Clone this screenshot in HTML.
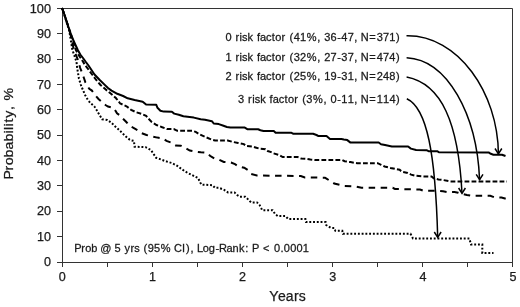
<!DOCTYPE html>
<html><head><meta charset="utf-8"><style>
html,body{margin:0;padding:0;background:#fff;}
body{width:520px;height:307px;overflow:hidden;}
svg{display:block;filter:grayscale(1);font-family:"Liberation Sans", sans-serif;font-size:11.9px;fill:#222;}
text{fill:#1a1a1a;stroke:#1a1a1a;stroke-width:0.25px;}
</style></head><body>
<svg width="520" height="307" viewBox="0 0 520 307">
<rect width="520" height="307" fill="#fff"/>
<path d="M57,8.5 H512.5 V267 M62.5,8 V267 M57,262.5 H513" stroke="#333" stroke-width="1" fill="none"/>
<path d="M57,8.5 H62 M57,33.5 H62 M57,59.5 H62 M57,84.5 H62 M57,109.5 H62 M57,135.5 H62 M57,160.5 H62 M57,185.5 H62 M57,211.5 H62 M57,236.5 H62 M57,262.5 H62" stroke="#333" stroke-width="1" fill="none"/>
<path d="M62.5,262 V267 M107.5,262 V267 M152.5,262 V267 M197.5,262 V267 M242.5,262 V267 M287.5,262 V267 M332.5,262 V267 M377.5,262 V267 M422.5,262 V267 M467.5,262 V267 M512.5,262 V267" stroke="#333" stroke-width="1" fill="none"/>
<text x="51" y="12.80" text-anchor="end" textLength="21.2" lengthAdjust="spacingAndGlyphs">100</text>
<text x="51" y="38.10" text-anchor="end" textLength="14.0" lengthAdjust="spacingAndGlyphs">90</text>
<text x="51" y="63.40" text-anchor="end" textLength="14.0" lengthAdjust="spacingAndGlyphs">80</text>
<text x="51" y="88.70" text-anchor="end" textLength="14.0" lengthAdjust="spacingAndGlyphs">70</text>
<text x="51" y="114.00" text-anchor="end" textLength="14.0" lengthAdjust="spacingAndGlyphs">60</text>
<text x="51" y="139.30" text-anchor="end" textLength="14.0" lengthAdjust="spacingAndGlyphs">50</text>
<text x="51" y="164.60" text-anchor="end" textLength="14.0" lengthAdjust="spacingAndGlyphs">40</text>
<text x="51" y="189.90" text-anchor="end" textLength="14.0" lengthAdjust="spacingAndGlyphs">30</text>
<text x="51" y="215.20" text-anchor="end" textLength="14.0" lengthAdjust="spacingAndGlyphs">20</text>
<text x="51" y="240.50" text-anchor="end" textLength="14.0" lengthAdjust="spacingAndGlyphs">10</text>
<text x="51" y="265.80" text-anchor="end" textLength="7.0" lengthAdjust="spacingAndGlyphs">0</text>
<text x="62.30" y="280.6" text-anchor="middle" textLength="7.0" lengthAdjust="spacingAndGlyphs">0</text>
<text x="152.45" y="280.6" text-anchor="middle" textLength="7.0" lengthAdjust="spacingAndGlyphs">1</text>
<text x="242.60" y="280.6" text-anchor="middle" textLength="7.0" lengthAdjust="spacingAndGlyphs">2</text>
<text x="332.75" y="280.6" text-anchor="middle" textLength="7.0" lengthAdjust="spacingAndGlyphs">3</text>
<text x="422.90" y="280.6" text-anchor="middle" textLength="7.0" lengthAdjust="spacingAndGlyphs">4</text>
<text x="513.05" y="280.6" text-anchor="middle" textLength="7.0" lengthAdjust="spacingAndGlyphs">5</text>
<polyline points="62.0,8.0 64.2,14.0 66.8,22.0 69.8,31.0 72.3,38.0 75.5,45.0 77.8,50.0 80.3,54.5 83.0,58.0 85.5,61.5 88.5,65.5 91.5,70.0 94.5,74.5 99.5,79.8 104.5,84.6 108.0,88.0 111.5,90.6 117.3,93.8 123.1,96.0 127.7,98.3 134.6,100.0 142.7,101.7 146.1,104.6 156.3,104.8 157.5,107.8 160.4,110.7 163.8,111.6 171.9,111.8 174.2,113.6 178.8,114.7 183.4,116.3 193.8,117.6 200.7,119.3 205.0,119.8 209.6,120.7 211.9,121.2 213.7,123.5 218.8,124.1 223.5,125.8 226.9,127.0 230.4,127.6 244.8,127.6 247.7,129.3 258.1,129.3 260.4,130.2 263.5,131.0 273.8,131.0 275.6,132.7 291.1,132.7 293.4,133.8 313.1,133.8 316.5,135.0 318.5,136.1 326.5,136.1 330.0,139.0 341.5,139.0 343.8,139.5 347.3,140.1 350.2,142.4 378.7,142.5 381.0,144.2 385.0,145.1 391.9,146.5 408.1,146.5 410.9,148.6 416.1,150.0 426.5,150.2 428.5,151.2 437.1,151.2 438.8,152.2 488.6,152.4 490.8,153.8 493.4,154.7 502.0,154.7 505.5,156.0" fill="none" stroke="#000" stroke-width="2" stroke-linejoin="round"/>
<polyline points="62.0,8.0 64.2,14.0 66.8,22.0 69.8,31.0 72.3,38.0 75.9,50.0 78.6,55.0 82.0,60.0 85.0,65.0 88.8,70.0 92.5,75.0 96.2,80.0 100.5,85.0 105.5,89.3 111.0,93.8 116.1,98.3 120.2,103.5 126.5,106.3 131.1,109.8 135.8,112.1 141.5,113.8 146.1,115.8 148.5,118.7 151.9,122.1 156.5,125.0 162.3,127.3 166.9,129.0 173.8,129.0 177.3,130.8 192.3,130.8 195.7,131.9 199.2,134.2 205.8,137.2 211.5,139.5 215.0,140.5 227.7,140.5 232.3,141.8 238.1,143.0 243.8,144.1 246.1,145.9 251.9,146.5 259.6,148.7 265.4,149.2 267.7,151.0 271.1,152.1 273.5,153.3 279.2,155.0 282.7,157.1 297.7,157.1 301.1,158.5 306.9,159.0 310.4,159.6 315.0,160.0 342.3,160.0 344.6,161.2 350.4,162.1 357.3,163.2 377.7,163.2 381.1,164.8 384.6,166.5 390.4,167.9 396.1,169.1 399.6,169.8 401.9,171.7 407.7,172.9 411.1,174.6 415.7,175.8 422.7,176.4 431.5,176.5 433.8,178.3 438.5,179.4 443.1,180.0 450.0,181.4 507.0,181.5" fill="none" stroke="#000" stroke-width="2" stroke-dasharray="4.8 2.2"/>
<polyline points="62.0,8.0 64.2,14.0 66.8,22.0 69.6,31.0 71.8,40.0 73.9,50.0 77.6,59.0 80.2,68.0 82.2,73.2 84.1,78.5 85.4,82.4 89.3,88.9 91.9,90.6 95.0,95.0 98.5,99.0 102.5,102.5 105.5,105.0 108.0,106.5 113.8,108.0 117.0,113.3 120.0,115.5 123.0,118.7 126.3,122.0 129.6,125.9 133.5,127.8 138.0,130.4 141.3,133.0 146.5,135.0 151.7,136.3 157.4,137.6 162.6,138.3 166.5,140.9 171.7,142.8 175.6,145.4 180.8,145.7 185.8,148.3 189.8,150.6 196.1,151.7 200.8,152.3 207.7,152.9 210.0,155.8 214.6,158.6 219.2,159.8 223.8,162.0 231.0,162.5 235.0,164.2 238.5,166.5 244.2,167.7 247.7,170.0 251.1,174.0 256.9,175.5 300.8,176.0 304.8,177.5 325.0,177.7 326.1,178.3 329.6,180.6 334.2,183.5 344.2,186.0 355.8,186.5 361.5,187.7 392.7,187.8 395.0,189.0 420.0,189.5 423.4,190.7 437.3,190.7 443.1,191.3 447.7,192.1 454.6,192.1 458.1,192.7 461.0,193.7 466.9,195.0 472.7,195.8 490.3,195.8 494.2,197.3 501.5,197.5 505.0,198.5 507.5,199.2" fill="none" stroke="#000" stroke-width="2" stroke-dasharray="6.5 5.5"/>
<polyline points="62.0,8.0 64.0,14.0 66.5,22.0 69.3,31.0 72.4,50.0 74.9,57.0 76.5,62.0 77.2,68.0 78.9,78.5 80.9,85.0 82.5,89.0 85.2,95.2 87.8,99.8 90.4,103.0 94.3,106.3 96.3,109.5 98.2,112.8 100.2,116.1 102.2,119.3 107.4,120.0 111.3,122.6 114.5,125.8 117.8,128.7 121.7,132.4 125.6,136.3 129.6,139.6 130.7,140.2 133.9,140.9 134.6,146.7 145.6,147.2 150.9,150.0 153.5,153.9 156.1,157.8 160.0,159.1 165.2,161.1 171.7,163.0 176.9,165.6 182.2,169.5 187.4,172.8 188.9,173.5 194.1,176.1 198.0,178.0 201.3,184.6 212.4,185.2 215.0,187.8 218.9,187.8 224.1,189.8 228.0,192.4 234.5,192.4 237.2,195.0 239.8,196.7 245.2,196.7 247.8,199.1 251.1,202.4 257.0,202.4 259.6,205.0 262.2,210.2 272.6,210.2 275.2,214.1 277.8,216.1 285.6,216.1 288.2,219.0 305.4,219.0 306.0,222.1 325.6,222.1 326.1,225.0 330.8,227.9 334.2,227.9 335.4,230.8 342.3,230.8 342.9,233.8 410.5,233.8 413.0,238.6 469.4,238.6 471.0,244.5 482.3,244.5 482.3,252.9 493.5,252.9" fill="none" stroke="#000" stroke-width="2" stroke-dasharray="1.9 1.85"/>
<path d="M406.5,35.8 C458.3,34.9 498.0,93.1 498.4,153.8" fill="none" stroke="#000" stroke-width="1.5"/>
<path d="M495.0,148.5 L498.4,153.8 L501.8,148.5" fill="none" stroke="#000" stroke-width="1.5"/>
<path d="M406.6,57.7 C447.4,59.7 476.9,114.4 479.6,179.7" fill="none" stroke="#000" stroke-width="1.5"/>
<path d="M476.2,174.4 L479.6,179.7 L483.0,174.4" fill="none" stroke="#000" stroke-width="1.5"/>
<path d="M406.6,77.1 C441.6,83.9 458.4,122.6 462.0,193.3" fill="none" stroke="#000" stroke-width="1.5"/>
<path d="M458.6,188.0 L462.0,193.3 L465.4,188.0" fill="none" stroke="#000" stroke-width="1.5"/>
<path d="M406.8,98.7 C427.0,107.9 435.4,153.5 437.7,237.3" fill="none" stroke="#000" stroke-width="1.5"/>
<path d="M434.3,232.0 L437.7,237.3 L441.1,232.0" fill="none" stroke="#000" stroke-width="1.5"/>
<text transform="scale(1.08,1)" x="208.70 214.68 217.98 221.78 224.02 229.15 234.63 237.87 240.84 246.30 251.65 254.84 260.74 264.61 268.04 271.92 277.78 283.97 293.72 297.02 300.15 306.01 312.17 316.05 321.91 327.94 331.24 334.04 341.96 348.80 354.66 360.52 366.67" y="41.0" font-size="10.2">0 risk factor (41%, 36-47, N=371)</text>
<text transform="scale(1.08,1)" x="208.70 214.68 217.98 221.78 224.02 229.15 234.63 237.87 240.84 246.30 251.65 254.84 260.74 264.61 268.04 271.92 277.78 283.97 293.72 297.02 300.15 306.01 312.17 316.05 321.91 327.94 331.24 334.04 341.96 348.80 354.66 360.52 366.67" y="60.7" font-size="10.2">1 risk factor (32%, 27-37, N=474)</text>
<text transform="scale(1.08,1)" x="208.70 214.68 217.98 221.78 224.02 229.15 234.63 237.87 240.84 246.30 251.65 254.84 260.74 264.61 268.04 271.92 277.78 283.97 293.72 297.02 300.15 306.01 312.17 316.05 321.91 327.94 331.24 334.04 341.96 348.80 354.66 360.52 366.67" y="80.5" font-size="10.2">2 risk factor (25%, 19-31, N=248)</text>
<text transform="scale(1.08,1)" x="220.46 226.43 229.74 233.54 235.78 240.91 246.39 249.63 252.60 258.06 263.41 266.60 272.50 276.37 279.80 283.68 289.87 299.62 302.92 306.05 312.21 316.09 321.95 327.98 331.28 334.08 342.00 348.84 354.70 360.56 366.72" y="103.0" font-size="10.2">3 risk factor (3%, 0-11, N=114)</text>
<text transform="scale(1.08,1)" x="68.82 75.27 78.89 84.56 90.47 92.94 102.93 106.06 112.03 115.24 120.79 124.31 129.46 132.89 136.77 142.63 148.82 158.52 161.09 168.51 172.26 176.31 179.61 182.37 187.74 193.40 199.50 202.81 209.63 215.31 221.24 227.19 230.90 233.32 239.70 243.53 250.48 253.61 259.64 262.83 268.69 274.54 280.40" y="251.8" font-size="10.2">Prob @ 5 yrs (95% CI), Log-Rank: P &lt; 0.0001</text>
<text transform="scale(1.0,1)" x="269.31 277.93 285.68 293.90 298.87" y="300.8" font-size="14.0">Years</text>
<text transform="translate(12.7,178.6) rotate(-90) scale(1.08,1)" x="-0.77 7.57 12.29 19.63 26.94 34.25 41.80 45.07 48.34 51.97 56.40 63.56 67.84 72.36" y="0" font-size="13.1">Probability, %</text>
</svg>
</body></html>
